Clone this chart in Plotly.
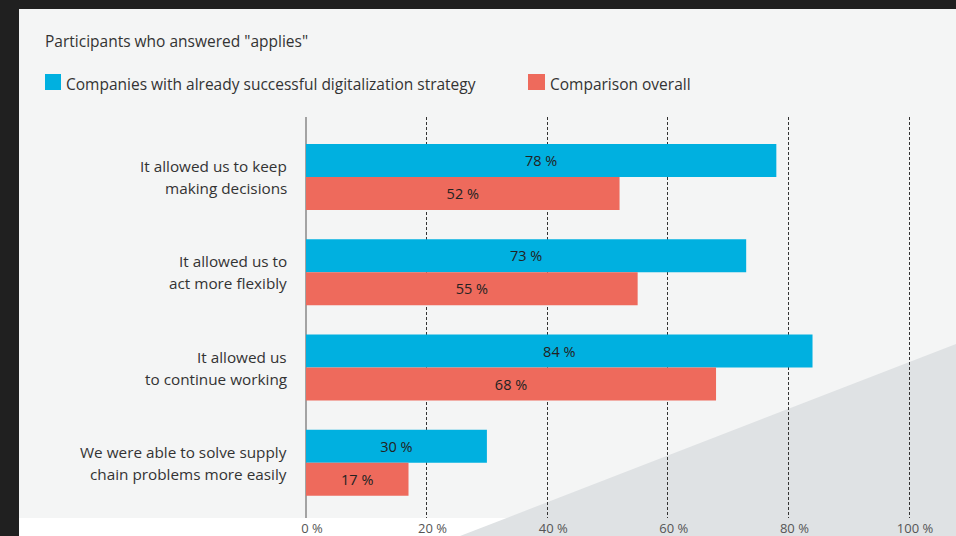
import plotly.graph_objects as go

# ---- data ----
title_text = 'Participants who answered "applies"'
categories = [
    "It allowed us to keep making decisions",
    "It allowed us to act more flexibly",
    "It allowed us to continue working",
    "We were able to solve supply chain problems more easily",
]
label_line1 = ["It allowed us to keep", "It allowed us to", "It allowed us", "We were able to solve supply"]
label_line2 = ["making decisions", "act more flexibly", "to continue working", "chain problems more easily"]
series_names = ["Companies with already successful digitalization strategy", "Comparison overall"]
successful = [78, 73, 84, 30]
overall = [52, 55, 68, 17]
tick_values = [0, 20, 40, 60, 80, 100]
tick_labels = ["0 %", "20 %", "40 %", "60 %", "80 %", "100 %"]

BLUE = "#00b0e0"
RED = "#ee6a5c"
TEXT = "#333333"
FONT = "Open Sans"

W, H = 956, 536
ML, MR, MT, MB = 300, 0, 117, 18
PW, PH = W - ML - MR, H - MT - MB


def px(x):
    return (x - ML) / PW


def py(y):
    return (H - MB - y) / PH


fig = go.Figure()
for name, vals, col in [(series_names[0], successful, BLUE), (series_names[1], overall, RED)]:
    fig.add_trace(go.Bar(
        y=categories, x=vals, name=name, orientation="h",
        marker=dict(color=col, line=dict(width=0)),
        text=vals, texttemplate="%{text} %", textposition="inside", insidetextanchor="middle",
        textangle=0, constraintext="none",
        insidetextfont=dict(family=FONT, size=14.5, color="#222222"),
        showlegend=False, hoverinfo="x+name",
    ))

shapes = [
    # panel
    dict(type="rect", xref="paper", yref="paper", x0=px(19), x1=px(956), y0=py(518), y1=py(9),
         fillcolor="#f4f5f5", line=dict(width=0), layer="below"),
    # white strip
    dict(type="rect", xref="paper", yref="paper", x0=px(19), x1=px(956), y0=py(536), y1=py(518),
         fillcolor="#ffffff", line=dict(width=0), layer="below"),
    # diagonal grey decoration
    dict(type="path", xref="paper", yref="paper",
         path=f"M {px(460)},{py(536)} L {px(956)},{py(344)} L {px(956)},{py(536)} Z",
         fillcolor="#dfe2e4", line=dict(width=0), layer="below"),
    # legend squares
    dict(type="rect", xref="paper", yref="paper", x0=px(45), x1=px(61), y0=py(90), y1=py(74),
         fillcolor=BLUE, line=dict(width=0)),
    dict(type="rect", xref="paper", yref="paper", x0=px(528), x1=px(545), y0=py(90), y1=py(74),
         fillcolor=RED, line=dict(width=0)),
]

annotations = [
    dict(text=title_text, xref="paper", yref="paper", x=px(43), y=py(41), xanchor="left", yanchor="middle",
         showarrow=False, font=dict(family=FONT, size=15.5, color=TEXT)),
    dict(text=series_names[0], xref="paper", yref="paper", x=px(64), y=py(84), xanchor="left", yanchor="middle",
         showarrow=False, font=dict(family=FONT, size=15.5, color=TEXT)),
    dict(text=series_names[1], xref="paper", yref="paper", x=px(548), y=py(84), xanchor="left", yanchor="middle",
         showarrow=False, font=dict(family=FONT, size=15.5, color=TEXT)),
]
for cat, l1, l2 in zip(categories, label_line1, label_line2):
    for line, shift in [(l1, 11), (l2, -11)]:
        annotations.append(dict(text=line, xref="x", yref="y", x=0, y=cat, xshift=-17, yshift=shift,
                                xanchor="right", yanchor="middle", showarrow=False,
                                font=dict(family=FONT, size=15.3, color=TEXT)))

unit = 603 / 100.0
fig.update_layout(
    width=W, height=H,
    margin=dict(l=ML, r=MR, t=MT, b=MB, pad=0),
    paper_bgcolor="#202020", plot_bgcolor="rgba(0,0,0,0)",
    barmode="group", bargap=0.307, bargroupgap=0,
    shapes=shapes, annotations=annotations,
    xaxis=dict(range=[-6 / unit, (PW - 6) / unit], tickmode="array", tickvals=tick_values, ticktext=tick_labels,
               showgrid=True, gridcolor="#333333", griddash="3px,2px", gridwidth=1,
               zeroline=True, zerolinecolor="#a3a3a3", zerolinewidth=2,
               ticks="", showline=False, automargin=False, ticklabelshift=6, ticklabelstandoff=1,
               tickfont=dict(family=FONT, size=13, color="#555555"), fixedrange=True),
    yaxis=dict(type="category", categoryorder="array", categoryarray=categories,
               range=[3.580, -0.6306], showticklabels=False, showgrid=False, zeroline=False,
               automargin=False, fixedrange=True),
    font=dict(family=FONT, color=TEXT),
)

fig.write_html("out.html", config={"displayModeBar": False},
               post_script="document.body.style.margin='0';document.body.style.overflow='hidden';")
